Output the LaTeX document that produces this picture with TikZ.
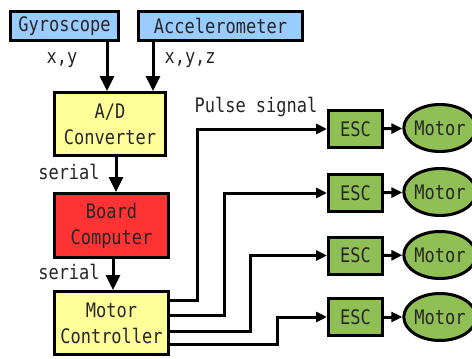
\documentclass[tikz,border=0pt]{standalone}
\usepackage{fontspec}
\setmonofont[FakeStretch=0.85]{DejaVu Sans Mono}
\usetikzlibrary{arrows.meta,positioning,shapes.geometric}

\definecolor{sensorblue}{HTML}{99CCFF}
\definecolor{convyellow}{HTML}{FFFF99}
\definecolor{boardred}{HTML}{FF3333}
\definecolor{escgreen}{HTML}{8FBF55}

\begin{document}
\begin{tikzpicture}[x=1pt,y=-1pt,
  font=\ttfamily\fontsize{20}{26}\selectfont,text=black!85,
  block/.style={draw,line width=3pt,inner sep=0pt,align=center},
  arr/.style={line width=3pt,-{Triangle[length=15pt,width=14pt]}},
  sig/.style={line width=3pt,-{Triangle[length=11pt,width=10pt]}}]
\useasboundingbox (0,0) rectangle (472,359);

% sensors
\node[block,fill=sensorblue,minimum width=108pt,minimum height=29pt] (gyro) at (64.5,26) {Gyroscope};
\node[block,fill=sensorblue,minimum width=164pt,minimum height=29pt] (acc) at (220.5,26) {Accelerometer};

% processing chain
\node[block,fill=convyellow,minimum width=111pt,minimum height=63pt] (ad) at (110,124) {A/D\\Converter};
\node[block,fill=boardred,minimum width=114pt,minimum height=64pt] (board) at (111.5,225.5) {Board\\Computer};
\node[block,fill=convyellow,minimum width=114pt,minimum height=63pt] (mc) at (111.5,323) {Motor\\Controller};

% ESCs and motors
\node[block,fill=escgreen,minimum width=54pt,minimum height=37pt] (esc1) at (355.5,129) {ESC};
\node[block,fill=escgreen,minimum width=54pt,minimum height=37pt] (esc2) at (355.5,193) {ESC};
\node[block,fill=escgreen,minimum width=54pt,minimum height=37pt] (esc3) at (355.5,255.5) {ESC};
\node[block,fill=escgreen,minimum width=54pt,minimum height=37pt] (esc4) at (355.5,317) {ESC};
\node[block,ellipse,fill=escgreen,minimum width=62pt,minimum height=47pt] (mot1) at (440,128) {Motor};
\node[block,ellipse,fill=escgreen,minimum width=62pt,minimum height=47pt] (mot2) at (440,192) {Motor};
\node[block,ellipse,fill=escgreen,minimum width=62pt,minimum height=47pt] (mot3) at (440,255) {Motor};
\node[block,ellipse,fill=escgreen,minimum width=62pt,minimum height=47pt] (mot4) at (440,317) {Motor};

% sensor data
\draw[arr] ([xshift=42.5pt]gyro.south) -- ([xshift=-3pt]ad.north);
\draw[arr] ([xshift=-67.5pt]acc.south) -- ([xshift=43pt]ad.north);
\node (lxy) at (62,60) {x,y};
\node[anchor=west] (lxyz) at (161,60) {x,y,z};

% serial links
\draw[arr] ([xshift=6pt]ad.south) -- ([xshift=4.5pt]board.north);
\draw[arr] ([xshift=1.5pt]board.south) -- ([xshift=1.5pt]mc.north);
\node (ser1) at (69,172) {serial};
\node (ser2) at (69,272) {serial};

% pulse signals
\node (pulse) at (256,107) {Pulse signal};
\draw[sig] ([yshift=23pt]mc.east) -- ++(27.5,0) |- (esc1.west);
\draw[sig] ([yshift=8pt]mc.east) -- ++(54.5,0) |- (esc2.west);
\draw[sig] ([yshift=-8pt]mc.east) -- ++(80.5,0) |- (esc3.west);
\draw[sig] ([yshift=-21pt]mc.east) -- ++(107.5,0) |- (esc4.west);

\draw[sig] (esc1) -- (mot1);
\draw[sig] (esc2) -- (mot2);
\draw[sig] (esc3) -- (mot3);
\draw[sig] (esc4) -- (mot4);
\end{tikzpicture}
\end{document}
